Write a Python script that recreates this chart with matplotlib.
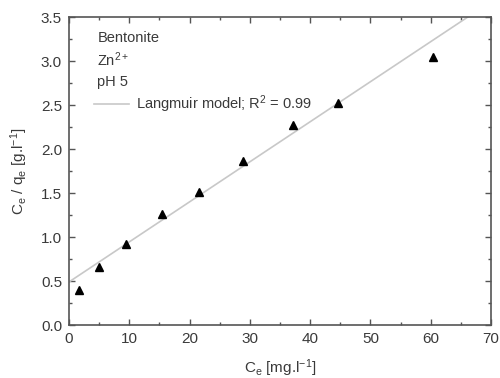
import matplotlib
matplotlib.use("Agg")
import matplotlib.pyplot as plt
import numpy as np
from matplotlib.ticker import MultipleLocator

plt.rcParams['font.family'] = ['Liberation Sans', 'DejaVu Sans']
plt.rcParams['mathtext.default'] = 'regular'

# data
ce = [1.7, 5.0, 9.4, 15.4, 21.5, 28.9, 37.1, 44.6, 60.3]
ce_qe = [0.40, 0.66, 0.92, 1.26, 1.51, 1.86, 2.27, 2.52, 3.05]
fit_intercept = 0.49
fit_slope = 0.0455
fit_x = [0, 66.5]

labels = ["Bentonite", "Zn$^{2+}$", "pH 5"]
fit_label = "Langmuir model; R$^2$ = 0.99"

txt = '#3a3a3a'
axc = '#555555'

fig = plt.figure(figsize=(5, 3.78), dpi=100)
ax = fig.add_axes([0.138, 0.140, 0.844, 0.815])

fx = np.array(fit_x)
line, = ax.plot(fx, fit_intercept + fit_slope * fx, color='#c8c8c8', lw=1.2, label=fit_label)
ax.plot(ce, ce_qe, linestyle='none', marker='^', color='black', markersize=6)

ax.set_xlim(0, 70)
ax.set_ylim(0, 3.5)
ax.xaxis.set_major_locator(MultipleLocator(10))
ax.xaxis.set_minor_locator(MultipleLocator(5))
ax.yaxis.set_major_locator(MultipleLocator(0.5))
ax.yaxis.set_minor_locator(MultipleLocator(0.25))
ax.yaxis.set_major_formatter(matplotlib.ticker.FormatStrFormatter('%.1f'))
ax.tick_params(which='both', direction='in', top=True, right=True, color=axc, labelcolor=txt, labelsize=11)
ax.tick_params(which='major', length=4, width=1, pad=5)
ax.tick_params(which='minor', length=2.5, width=1)
for s in ax.spines.values():
    s.set_color(axc)
    s.set_linewidth(1.2)

ax.set_xlabel("C$_e$ [mg.l$^{-1}$]", fontsize=11, color=txt, labelpad=8)
ax.set_ylabel("C$_e$ / q$_e$ [g.l$^{-1}$]", fontsize=11, color=txt, labelpad=8)

ys = [0.932, 0.860, 0.789]
for lab, y in zip(labels, ys):
    ax.text(0.067, y, lab, transform=ax.transAxes, fontsize=10.5, color=txt, va='center', ha='left')

leg = ax.legend(handles=[line], loc='upper left', bbox_to_anchor=(0.045, 0.772), frameon=False,
                fontsize=10.5, handlelength=2.4, handletextpad=0.5, borderaxespad=0)
for t in leg.get_texts():
    t.set_color(txt)

fig.savefig("out.png", dpi=100)
